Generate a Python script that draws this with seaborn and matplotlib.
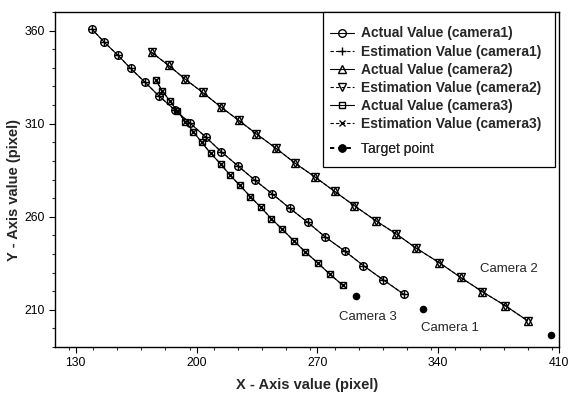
import matplotlib
matplotlib.use("Agg")
import matplotlib.pyplot as plt
import seaborn as sns
from matplotlib.lines import Line2D
from matplotlib.patches import Rectangle
from matplotlib.ticker import MultipleLocator

# ---- data ----
cam1_x = [139.3, 146.4, 154.3, 161.8, 170.1, 178.2, 187.4, 196.1, 205.2, 214.3,
          223.9, 233.7, 243.7, 254.1, 264.4, 274.6, 285.8, 296.7, 308.3, 320.0]
cam1_y = [360.9, 353.9, 346.9, 339.7, 332.3, 324.9, 317.4, 310.4, 302.9, 294.9,
          287.4, 279.7, 272.4, 264.5, 257.0, 249.1, 241.6, 233.7, 226.0, 218.4]
cam1_est_x = list(cam1_x)
cam1_est_y = list(cam1_y)

cam2_x = [174.0, 183.8, 193.6, 203.5, 213.9, 224.4, 234.7, 246.0, 257.2, 268.4,
          280.0, 291.5, 303.9, 315.8, 327.4, 340.5, 353.0, 365.6, 378.9, 391.8]
cam2_y = [348.3, 341.3, 333.8, 326.8, 319.1, 311.8, 304.5, 296.8, 288.7, 281.5,
          273.6, 265.9, 257.8, 250.7, 243.0, 235.4, 227.4, 219.7, 212.2, 204.1]
cam2_est_x = list(cam2_x)
cam2_est_y = list(cam2_y)

cam3_x = [176.3, 180.1, 184.4, 188.8, 193.4, 198.2, 202.9, 208.1, 213.9, 219.2,
          225.0, 231.2, 237.2, 243.4, 249.7, 256.3, 263.0, 270.3, 277.4, 284.8]
cam3_y = [333.5, 327.7, 322.4, 317.0, 311.1, 305.7, 300.0, 294.2, 288.4, 282.6,
          276.9, 270.8, 265.1, 258.9, 253.2, 247.1, 241.1, 235.1, 229.0, 223.1]
cam3_est_x = list(cam3_x)
cam3_est_y = list(cam3_y)

target_x = [331.4, 405.3, 292.5]
target_y = [210.4, 196.4, 217.2]
target_labels = ["Camera 1", "Camera 2", "Camera 3"]
label_x = [346.6, 380.8, 299.2]
label_y = [200.3, 231.9, 205.9]

x_ticks = [130, 200, 270, 340, 410]
y_ticks = [210, 260, 310, 360]

series_labels = ["Actual Value (camera1)", "Estimation Value (camera1)",
                 "Actual Value (camera2)", "Estimation Value (camera2)",
                 "Actual Value (camera3)", "Estimation Value (camera3)"]
target_legend_label = "Target point"

# ---- style ----
sns.set_style("ticks")
plt.rcParams["font.family"] = ["Liberation Sans", "DejaVu Sans"]

W, H = 570, 394
fig = plt.figure(figsize=(W / 100, H / 100), dpi=100)
AX_L, AX_R, AX_T, AX_B = 55, 559, 12, 347
ax = fig.add_axes([AX_L / W, 1 - AX_B / H, (AX_R - AX_L) / W, (AX_B - AX_T) / H])


def fx(px):
    return (px - AX_L) / (AX_R - AX_L)


def fy(py):
    return (AX_B - py) / (AX_B - AX_T)


lw = 0.8
mew = 1.0
dash = (0, (3, 2))
common = dict(ax=ax, color="black", sort=False, estimator=None, linewidth=lw)

sns.lineplot(x=cam1_x, y=cam1_y, marker="o", markersize=5.5, markerfacecolor="none",
             markeredgecolor="black", markeredgewidth=mew, **common)
sns.lineplot(x=cam1_est_x, y=cam1_est_y, marker="+", markersize=6, markeredgecolor="black",
             markeredgewidth=mew, linestyle=dash, **common)
sns.lineplot(x=cam2_x, y=cam2_y, marker="^", markersize=6, markerfacecolor="none",
             markeredgecolor="black", markeredgewidth=mew, **common)
sns.lineplot(x=cam2_est_x, y=cam2_est_y, marker="v", markersize=6, markerfacecolor="none",
             markeredgecolor="black", markeredgewidth=mew, linestyle=dash, **common)
sns.lineplot(x=cam3_x, y=cam3_y, marker="s", markersize=5, markerfacecolor="none",
             markeredgecolor="black", markeredgewidth=mew, **common)
sns.lineplot(x=cam3_est_x, y=cam3_est_y, marker="x", markersize=5, markeredgecolor="black",
             markeredgewidth=mew, linestyle=dash, **common)
sns.scatterplot(x=target_x, y=target_y, ax=ax, color="black", s=30, edgecolor="black",
                linewidth=0, zorder=5)

for tx, ty, t in zip(label_x, label_y, target_labels):
    ax.text(tx, ty, t, ha="center", va="center", fontsize=9.5)

ax.set_xlim(118, 410)
ax.set_ylim(190, 370)
ax.set_xticks(x_ticks)
ax.set_yticks(y_ticks)
ax.xaxis.set_minor_locator(MultipleLocator(14))
ax.yaxis.set_minor_locator(MultipleLocator(10))
ax.tick_params(axis="both", which="major", length=4, width=0.8, labelsize=8.8,
               colors="black", pad=3)
ax.tick_params(axis="both", which="minor", length=2.5, width=0.8)
for s in ax.spines.values():
    s.set_visible(True)
    s.set_linewidth(1.0)
    s.set_color("black")

ax.set_xlabel("X - Axis value (pixel)", fontsize=10.5, fontweight="bold", labelpad=7)
ax.set_ylabel("Y - Axis value (pixel)", fontsize=10.5, fontweight="bold")
ax.yaxis.set_label_coords(fx(21.5), fy(190))

# ---- legend (two frameless legends inside one drawn box) ----
handles = [
    Line2D([], [], color="black", lw=lw, marker="o", ms=5.5, mfc="none", mew=mew),
    Line2D([], [], color="black", lw=lw, ls=dash, marker="+", ms=6, mew=mew),
    Line2D([], [], color="black", lw=lw, marker="^", ms=6, mfc="none", mew=mew),
    Line2D([], [], color="black", lw=lw, ls=dash, marker="v", ms=6, mfc="none", mew=mew),
    Line2D([], [], color="black", lw=lw, marker="s", ms=5, mfc="none", mew=mew),
    Line2D([], [], color="black", lw=lw, ls=dash, marker="x", ms=5, mew=mew),
]
target_handle = Line2D([], [], color="black", lw=1.2, ls=(0, (2.5, 2.5)), marker="o",
                       ms=5, mfc="black", mec="black")

LEG_FS = 10.0
leg_kw = dict(loc="upper left", frameon=False, fontsize=LEG_FS, handlelength=1.7,
              handletextpad=0.55, borderpad=0.0, borderaxespad=0.0)
leg1 = ax.legend(handles, series_labels, bbox_to_anchor=(fx(330), fy(26.5)),
                 labelspacing=0.3, **leg_kw)
for t in leg1.get_texts():
    t.set_fontweight("bold")
ax.add_artist(leg1)
leg2 = ax.legend([target_handle], [target_legend_label],
                 bbox_to_anchor=(fx(330), fy(142.0)), **leg_kw)
ax.add_artist(leg2)

box = Rectangle((fx(323), fy(167)), fx(555) - fx(323), fy(12) - fy(167),
                transform=ax.transAxes, facecolor="white", edgecolor="black",
                linewidth=0.9, zorder=4, clip_on=False)
ax.add_patch(box)
leg1.set_zorder(6)
leg2.set_zorder(6)

fig.savefig("out.png", dpi=100)
